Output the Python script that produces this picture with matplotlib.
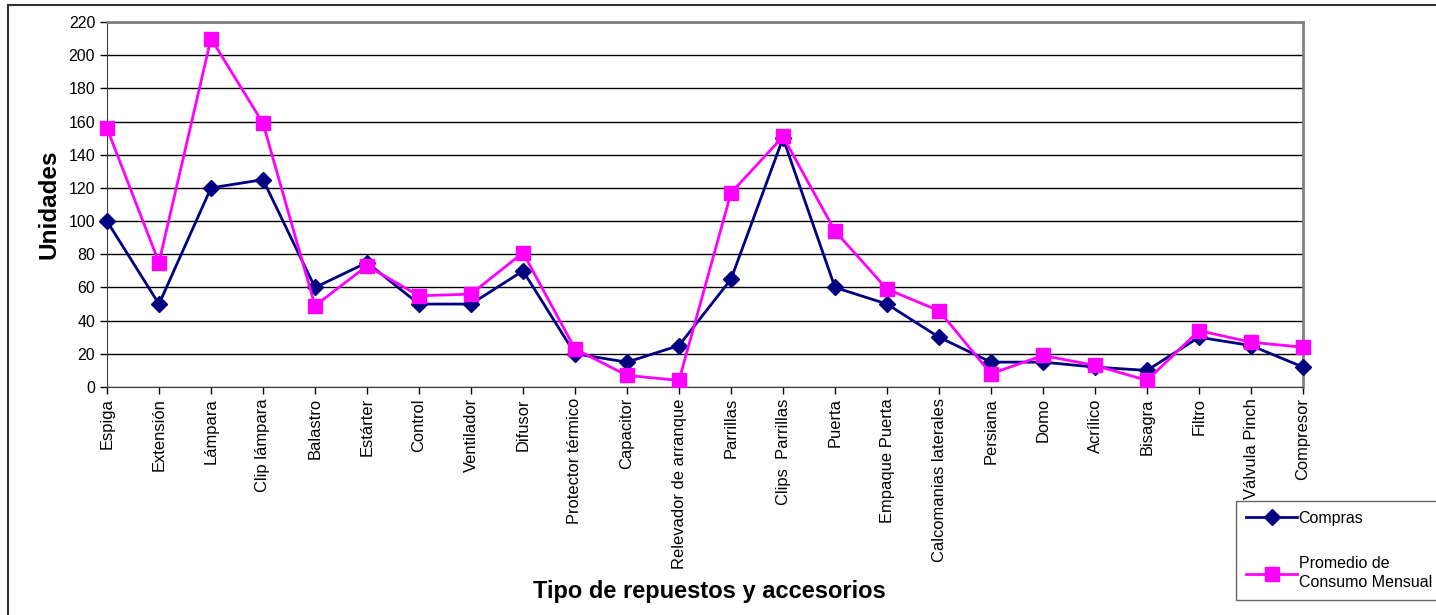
import matplotlib
matplotlib.use("Agg")
import matplotlib.pyplot as plt
from matplotlib.lines import Line2D

plt.rcParams['font.family'] = ['Liberation Sans', 'DejaVu Sans']

categorias = ["Espiga", "Extensión", "Lámpara", "Clip lámpara", "Balastro",
              "Estárter", "Control", "Ventilador", "Difusor", "Protector térmico",
              "Capacitor", "Relevador de arranque", "Parrillas", "Clips  Parrillas",
              "Puerta", "Empaque Puerta", "Calcomanias laterales", "Persiana",
              "Domo", "Acrílico", "Bisagra", "Filtro", "Válvula Pinch", "Compresor"]
compras = [100, 50, 120, 125, 60, 75, 50, 50, 70, 20, 15, 25, 65, 150,
           60, 50, 30, 15, 15, 12, 10, 30, 25, 12]
promedio = [156, 75, 210, 159, 49, 73, 55, 56, 81, 23, 7, 4, 117, 151,
            94, 59, 46, 8, 19, 13, 4, 34, 27, 24]
y_ticks = list(range(0, 221, 20))

fig = plt.figure(figsize=(14.36, 6.15), dpi=100)
ax = fig.add_axes([0.0745, 0.3707, 0.8329, 0.5935])

x = list(range(len(categorias)))
ax.plot(x, compras, color="#000080", lw=2, marker="D", ms=8,
        label="Compras", zorder=3, clip_on=False)
ax.plot(x, promedio, color="#FF00FF", lw=2, marker="s", ms=10,
        label="Promedio de\nConsumo Mensual", zorder=4, clip_on=False)

ax.set_xlim(0, len(categorias) - 1)
ax.set_ylim(0, 220)
ax.set_yticks(y_ticks)
ax.set_xticks(x)
ax.set_xticklabels(categorias, rotation=90, fontsize=11.9)
ax.tick_params(axis="y", labelsize=11.5, length=5, width=1, direction="out")
ax.tick_params(axis="x", length=5, width=1, direction="out", pad=3)
ax.grid(axis="y", color="black", lw=1)
ax.set_axisbelow(True)

for side in ["top", "right"]:
    ax.spines[side].set_color("#808080")
    ax.spines[side].set_linewidth(2)
ax.spines["left"].set_color("#404040")
ax.spines["bottom"].set_color("#404040")

ax.set_ylabel("Unidades", fontsize=17.5, fontweight="bold", labelpad=6)
fig.text(0.494, 0.039, "Tipo de repuestos y accesorios", fontsize=17,
         fontweight="bold", ha="center", va="center")

# chart frame (left and top edges visible)
fig.add_artist(Line2D([0.0056, 0.0056], [0, 0.992], transform=fig.transFigure,
                      color="#303030", lw=1.5))
fig.add_artist(Line2D([0.0056, 1], [0.992, 0.992], transform=fig.transFigure,
                      color="#303030", lw=1.5))

leg = fig.legend(loc="upper left", bbox_to_anchor=(0.861, 0.185),
                 frameon=True, fancybox=False, fontsize=11.5, handlelength=3.2,
                 handletextpad=0.1, labelspacing=1.9, borderpad=0.6,
                 borderaxespad=0)
for t in leg.get_texts():
    t.set_linespacing(1.35)
leg.get_frame().set_edgecolor("#404040")
leg.get_frame().set_linewidth(1)

fig.savefig("out.png", dpi=100)
